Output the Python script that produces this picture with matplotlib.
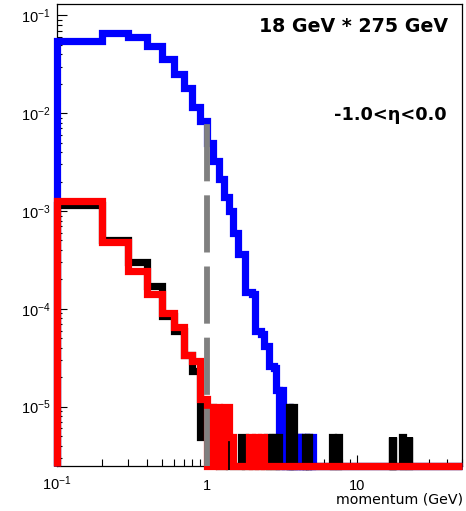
import numpy as np
import matplotlib
matplotlib.use("Agg")
import matplotlib.pyplot as plt

# ---------------- data ----------------
bin_width = 0.1
x_first, x_last = 0.1, 50.0
y_bottom, y_top = 2.5e-6, 0.13
cut_momentum = 1.0
cut_height = 8.3e-3

# bins start at 0.1 GeV, width 0.1 GeV
blue_vals = [0.0542, 0.0660, 0.0598, 0.0492, 0.0360, 0.0253, 0.0182, 0.0116, 0.00834,
             0.00496, 0.00325, 0.00212, 0.00139, 0.00100, 5.9e-4, 3.6e-4, 3.6e-4, 1.48e-4,
             1.48e-4, 1.41e-4, 6.0e-5, 6.0e-5, 5.5e-5, 4.2e-5, 4.2e-5, 2.6e-5, 2.6e-5, 2.5e-5,
             1.47e-5, 0, 1.47e-5, 4.9e-6, 0, 9.8e-6, 0, 4.9e-6, 0, 4.9e-6, 0, 4.9e-6,
             0, 4.9e-6, 0, 4.9e-6, 0, 0, 4.9e-6, 0, 0, 4.9e-6]

black_vals = [1.15e-3, 5.0e-4, 3.0e-4, 1.7e-4, 8.5e-5, 5.9e-5, 3.4e-5, 2.3e-5, 4.9e-6,
              9.8e-6, 4.9e-6, 0, 4.9e-6, 0, 0, 0, 4.9e-6, 0, 0, 0,
              0, 0, 0, 0, 4.9e-6, 0, 4.9e-6, 0, 4.9e-6, 0,
              0, 0, 0, 0, 9.8e-6, 0, 9.8e-6]
black_tail_p = [4.5, 4.7, 6.8, 7.5, 17.0, 17.3, 20.0, 22.2]
black_tail_v = [4.9e-6, 4.9e-6, 4.9e-6, 4.9e-6, 4.9e-6, 4.9e-6, 4.9e-6, 4.9e-6]

red_vals = [1.27e-3, 4.8e-4, 2.42e-4, 1.42e-4, 9.0e-5, 6.5e-5, 3.4e-5, 2.9e-5, 1.2e-5,
            0, 9.8e-6, 0, 9.8e-6, 4.9e-6, 0, 0, 0, 0, 4.9e-6,
            0, 4.9e-6, 0, 4.9e-6]

x_tick_vals = [0.1, 1, 10]
x_tick_labels = [r"$\mathdefault{10^{-1}}$", "1", "10"]
y_tick_vals = [1e-5, 1e-4, 1e-3, 1e-2, 1e-1]
y_tick_labels = [r"$\mathdefault{10^{-5}}$", r"$\mathdefault{10^{-4}}$",
                 r"$\mathdefault{10^{-3}}$", r"$\mathdefault{10^{-2}}$",
                 r"$\mathdefault{10^{-1}}$"]

# ---------------- helpers ----------------
n_bins = int(round((x_last - x_first) / bin_width))
edges = np.round(x_first + bin_width * np.arange(n_bins + 1), 1)


def full_hist(dense, tail_p=(), tail_v=()):
    v = np.zeros(n_bins)
    v[:len(dense)] = dense
    for p, val in zip(tail_p, tail_v):
        v[int(round((p - x_first) / bin_width))] = val
    return v


def step_path(v):
    v = np.where(v > 0, v, y_bottom)
    xs = np.repeat(edges, 2)
    ys = np.concatenate([[y_bottom], np.repeat(v, 2), [y_bottom]])
    keep = np.ones(len(xs), bool)
    keep[1:] = (np.diff(xs) != 0) | (np.diff(ys) != 0)
    return xs[keep], ys[keep]


# ---------------- figure ----------------
W, H = 466, 511
fig = plt.figure(figsize=(W / 100, H / 100), dpi=100)
ax = fig.add_axes([56.7 / W, 1 - 465.5 / H, (462 - 56.7) / W, (465.5 - 4.3) / H])
ax.set_xscale("log")
ax.set_yscale("log")
ax.set_xlim(x_first, x_last)
ax.set_ylim(y_bottom, y_top)

lw = 5.2
for vals, col, z in [(full_hist(blue_vals), "#0000ff", 3),
                     (full_hist(black_vals, black_tail_p, black_tail_v), "black", 4),
                     (full_hist(red_vals), "#ff0000", 5)]:
    xs, ys = step_path(vals)
    ax.plot(xs, ys, color=col, lw=lw, solid_joinstyle="miter",
            solid_capstyle="butt", clip_on=False, zorder=z)

ax.plot([cut_momentum, cut_momentum], [y_bottom, cut_height], color="#808080",
        lw=4.2, linestyle=(0, (9.8, 2.4)), dash_capstyle="butt", clip_on=False, zorder=6)

for s in ax.spines.values():
    s.set_linewidth(0.9)

tick_font = "Liberation Sans"
ax.set_xticks(x_tick_vals)
ax.set_xticklabels(x_tick_labels, fontsize=10.5, family=tick_font)
ax.set_yticks(y_tick_vals)
ax.set_yticklabels(y_tick_labels, fontsize=10.5, family=tick_font)
ax.tick_params(which="both", direction="in", top=False, right=False, width=0.8)
ax.tick_params(axis="y", which="major", length=7.5, pad=4.5)
ax.tick_params(axis="y", which="minor", length=3.8)
ax.tick_params(axis="x", which="major", length=8, pad=17.5)
ax.tick_params(axis="x", which="minor", length=4.8)
for t in ax.get_xticklabels():
    t.set_verticalalignment("baseline")
ax.xaxis.set_minor_formatter(matplotlib.ticker.NullFormatter())
ax.yaxis.set_minor_formatter(matplotlib.ticker.NullFormatter())

fig.text(463 / W, 1 - 503.5 / H, "momentum (GeV)", ha="right", va="baseline",
         fontsize=10.2, family="DejaVu Sans")
fig.text(448 / W, 1 - 32.3 / H, "18 GeV * 275 GeV", ha="right", va="baseline",
         fontsize=13.7, fontweight="bold", family="DejaVu Sans")
fig.text(447 / W, 1 - 120 / H, "-1.0<η<0.0", ha="right", va="baseline",
         fontsize=12.8, fontweight="bold", family="DejaVu Sans")

fig.savefig("out.png", dpi=100)
